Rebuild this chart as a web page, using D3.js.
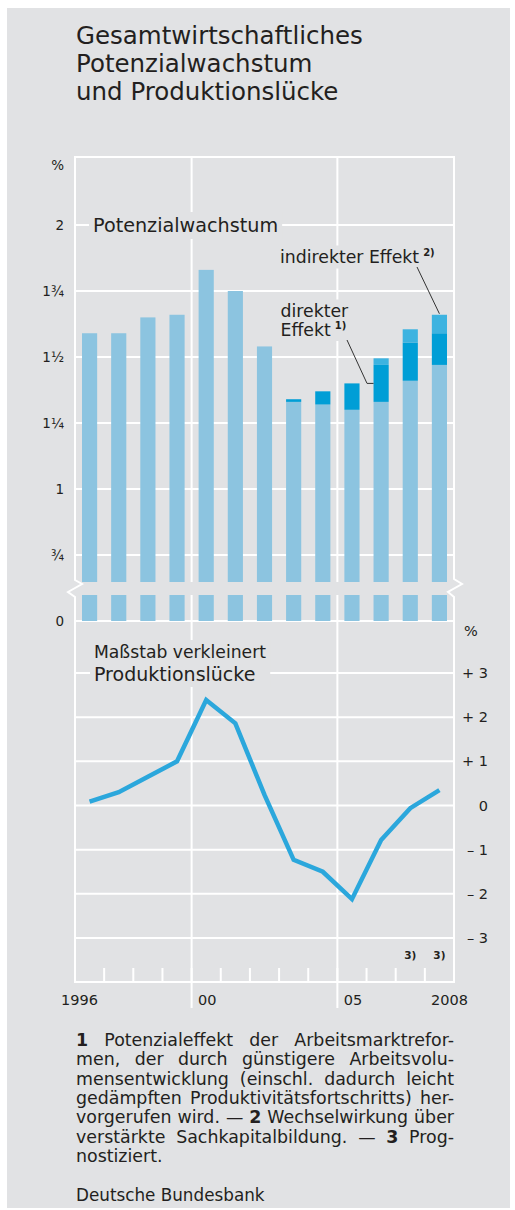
<!DOCTYPE html>
<html><head><meta charset="utf-8">
<script src="https://cdn.jsdelivr.net/npm/d3@7"></script>
<style>
html,body{margin:0;padding:0;background:#fff;}
svg{display:block;}
text{font-family:"DejaVu Sans",sans-serif;fill:#231f20;}
</style></head>
<body>
<svg id="chart" width="515" height="1210"></svg>
<script>
// ---- data ----
const years = ["1996","1997","1998","1999","2000","2001","2002","2003","2004","2005","2006","2007","2008"];
const baseGrowth = [1.59,1.59,1.65,1.66,1.83,1.75,1.54,1.33,1.32,1.30,1.33,1.41,1.47];
const directEffect = [0,0,0,0,0,0,0,0.01,0.05,0.10,0.14,0.145,0.12];
const indirectEffect = [0,0,0,0,0,0,0,0,0,0,0.025,0.05,0.07];
const outputGap = [0.09,0.30,0.65,1.00,2.39,1.86,0.24,-1.23,-1.50,-2.12,-0.78,-0.06,0.35];
const leftTickValues = [0.5,0.75,1,1.25,1.5,1.75,2];
const leftTickLabels = ["0","¾","1","1¼","1½","1¾","2"];
const rightTickValues = [3,2,1,0,-1,-2,-3];
const rightTickLabels = ["+ 3","+ 2","+ 1","0","– 1","– 2","– 3"];
const xTickYears = ["1996","2000","2005","2008"];
const xTickLabels = ["1996","00","05","2008"];
const forecastYears = ["2007","2008"];
const titleLines = ["Gesamtwirtschaftliches","Potenzialwachstum","und Produktionslücke"];
const footLines = [
  "*1 Potenzialeffekt der Arbeitsmarktrefor-",
  "men, der durch günstigere Arbeitsvolu-",
  "mensentwicklung (einschl. dadurch leicht",
  "gedämpften Produktivitätsfortschritts) her-",
  "vorgerufen wird. — *2 Wechselwirkung über",
  "verstärkte Sachkapitalbildung. — *3 Prog-",
  "nostiziert."
];
const sourceText = "Deutsche Bundesbank";

// ---- layout ----
const BG = "#e1e2e4", GRID = "#ffffff";
const C_BASE = "#8cc4e0", C_DIRECT = "#009ed6", C_INDIRECT = "#3db3e0", C_LINE = "#2ba7dc";
const L = 75, R = 454, TOP = 157, BOT = 982;
const svg = d3.select("#chart");

svg.append("rect").attr("x",7).attr("y",8).attr("width",503).attr("height",1200).attr("fill",BG);

const x = d3.scaleBand().domain(years).range([L,R]).paddingInner(0.48).paddingOuter(0.24);
const edge = y => x(y) - (x.step()-x.bandwidth())/2;
const yTop = d3.scaleLinear().domain([0.5,2]).range([621,225]);
const yBot = d3.scaleLinear().domain([-3,3]).range([938,673]);

// title (one text, three lines)
svg.append("text").attr("font-size",24.5).selectAll("tspan").data(titleLines).join("tspan")
  .attr("x",76).attr("y",(d,i)=>44+i*28).text(d=>d);

// gridlines
const grid = svg.append("g").attr("stroke",GRID).attr("stroke-width",2);
grid.selectAll(".gt").data(leftTickValues).join("line")
  .attr("x1",L).attr("x2",R).attr("y1",d=>yTop(d)).attr("y2",d=>yTop(d));
grid.selectAll(".gb").data(rightTickValues).join("line")
  .attr("x1",L).attr("x2",R).attr("y1",d=>yBot(d)).attr("y2",d=>yBot(d));
grid.selectAll(".gv").data(["2000","2005"]).join("line")
  .attr("x1",d=>edge(d)).attr("x2",d=>edge(d)).attr("y1",TOP).attr("y2",1008);
grid.selectAll(".tk").data(years.slice(1)).join("line")
  .attr("x1",d=>edge(d)).attr("x2",d=>edge(d)).attr("y1",968).attr("y2",BOT);

// bars
const stack = years.map((y,i)=>({year:y, segs:[
  {y0:0.5, y1:baseGrowth[i], c:C_BASE},
  {y0:baseGrowth[i], y1:baseGrowth[i]+directEffect[i], c:C_DIRECT},
  {y0:baseGrowth[i]+directEffect[i], y1:baseGrowth[i]+directEffect[i]+indirectEffect[i], c:C_INDIRECT}
].filter(s=>s.y1>s.y0)}));
const bars = svg.append("g");
stack.forEach(st=>{
  bars.selectAll(null).data(st.segs).join("rect")
    .attr("x",x(st.year)).attr("width",x.bandwidth())
    .attr("y",d=>yTop(d.y1)).attr("height",d=>yTop(d.y0)-yTop(d.y1))
    .attr("fill",d=>d.c);
});

// axis break band
svg.append("rect").attr("x",L+1).attr("width",R-L-2).attr("y",582).attr("height",13).attr("fill",BG);

// frame
const frame = svg.append("g").attr("stroke",GRID).attr("stroke-width",2).attr("fill","none");
frame.append("line").attr("x1",L-1).attr("x2",R+1).attr("y1",TOP).attr("y2",TOP);
frame.append("line").attr("x1",L-1).attr("x2",R+1).attr("y1",BOT).attr("y2",BOT);
frame.append("path").attr("d",`M${L},${TOP}V580L${L+7},584L${L-7},592L${L},597V${BOT}`);
frame.append("path").attr("d",`M${R},${TOP}V579L${R+8},584L${R-6},592L${R},597V${BOT}`);

// left axis labels
const axL = svg.append("g").attr("transform",`translate(64,0)`)
  .call(d3.axisLeft(yTop).tickValues(leftTickValues).tickSize(0).tickPadding(0)
    .tickFormat((d,i)=>leftTickLabels[i]));
axL.select(".domain").remove();
axL.selectAll("text").attr("font-size",13.5).attr("font-family","DejaVu Sans").attr("fill","#231f20");
svg.append("text").attr("x",64).attr("y",170).attr("text-anchor","end").attr("font-size",13.5).text("%");

// right axis labels
const axR = svg.append("g").attr("transform",`translate(488,0)`)
  .call(d3.axisLeft(yBot).tickValues(rightTickValues).tickSize(0).tickPadding(0)
    .tickFormat((d,i)=>rightTickLabels[i]));
axR.select(".domain").remove();
axR.selectAll("text").attr("font-size",14.5).attr("font-family","DejaVu Sans").attr("fill","#231f20");
svg.append("text").attr("x",464).attr("y",636).attr("font-size",14.5).text("%");

// bottom axis labels
const axB = svg.append("g").attr("transform",`translate(0,${BOT})`)
  .call(d3.axisBottom(x).tickValues(xTickYears).tickSize(0).tickPadding(13)
    .tickFormat((d,i)=>xTickLabels[i]));
axB.select(".domain").remove();
axB.selectAll("text").attr("font-size",14.5).attr("font-family","DejaVu Sans").attr("fill","#231f20")
  .attr("dx",d=>d==="1996"?-10:d==="2008"?10:1);

// label with background box helper (single text element, lines as tspans)
function boxed(lines, sizes, x0, y0, lh, pad, sup){
  const g = svg.append("g");
  const r = g.append("rect").attr("fill",BG);
  const t = g.append("text");
  lines.forEach((l,i)=>{
    t.append("tspan").attr("x",x0).attr("y",y0+i*lh).attr("font-size",sizes[i]).text(l);
  });
  if(sup) t.append("tspan").attr("font-size",10).attr("font-weight",700).attr("dx",4).attr("dy",-7).text(sup);
  const b = g.node().getBBox();
  r.attr("x",b.x-pad).attr("y",b.y-pad/2).attr("width",b.width+2*pad).attr("height",b.height+pad);
  return g;
}
boxed(["Potenzialwachstum"],[19.2],93,232,0,4);
boxed(["Maßstab verkleinert","Produktionslücke"],[17.2,19],94,658,23,4);
boxed(["indirekter Effekt"],[17.3],280,263,0,3,"2)");
boxed(["direkter","Effekt"],[17.3,17.3],280.5,317,18.5,3,"1)");

// leader lines
const i08 = years.indexOf("2008"), i06 = years.indexOf("2006");
svg.append("path").attr("fill","none").attr("stroke","#333").attr("stroke-width",1)
  .attr("d",`M417,267L${x("2008")+x.bandwidth()/2},${yTop(baseGrowth[i08]+directEffect[i08]+indirectEffect[i08])-1}`);
svg.append("path").attr("fill","none").attr("stroke","#333").attr("stroke-width",1)
  .attr("d",`M347,340L367,${yTop(baseGrowth[i06]+directEffect[i06]/2)}H${x("2006")}`);

// output gap line
svg.append("path").datum(outputGap)
  .attr("fill","none").attr("stroke",C_LINE).attr("stroke-width",4.5).attr("stroke-linejoin","miter")
  .attr("d",d3.line().x((d,i)=>x(years[i])+x.bandwidth()/2).y(d=>yBot(d)));

// forecast markers
svg.append("g").selectAll("text").data(forecastYears).join("text")
  .attr("x",d=>x(d)+x.bandwidth()/2).attr("y",959).attr("text-anchor","middle")
  .attr("font-size",10.5).attr("font-weight",700).text("3)");

// footnote (justified, one text element, each word a positioned tspan)
const FX0 = 76, FX1 = 454, FS = 17.4;
const meas = svg.append("text").attr("font-size",FS).attr("x",-500).attr("y",-500);
const mw = (s,b)=>{meas.attr("font-weight",b?700:400).text(s);return meas.node().getComputedTextLength();};
const spW = mw("n n") - mw("nn");
const foot = svg.append("text").attr("font-size",FS);
footLines.forEach((line,li)=>{
  const y = 1046 + li*19.3;
  const words = line.split(" ").map(w=>({t:w.replace("*",""), b:w.startsWith("*")}));
  const ws = words.map(w=>mw(w.t,w.b));
  const justify = li < footLines.length-1;
  const gap = justify ? (FX1-FX0-d3.sum(ws))/(words.length-1) : spW;
  let cx = FX0;
  words.forEach((w,i)=>{
    foot.append("tspan").attr("x",cx).attr("y",y).attr("font-weight",w.b?700:null).text(w.t);
    cx += ws[i]+gap;
  });
});
meas.remove();
svg.append("text").attr("x",76).attr("y",1201).attr("font-size",16.8).text(sourceText);
</script>
</body></html>
